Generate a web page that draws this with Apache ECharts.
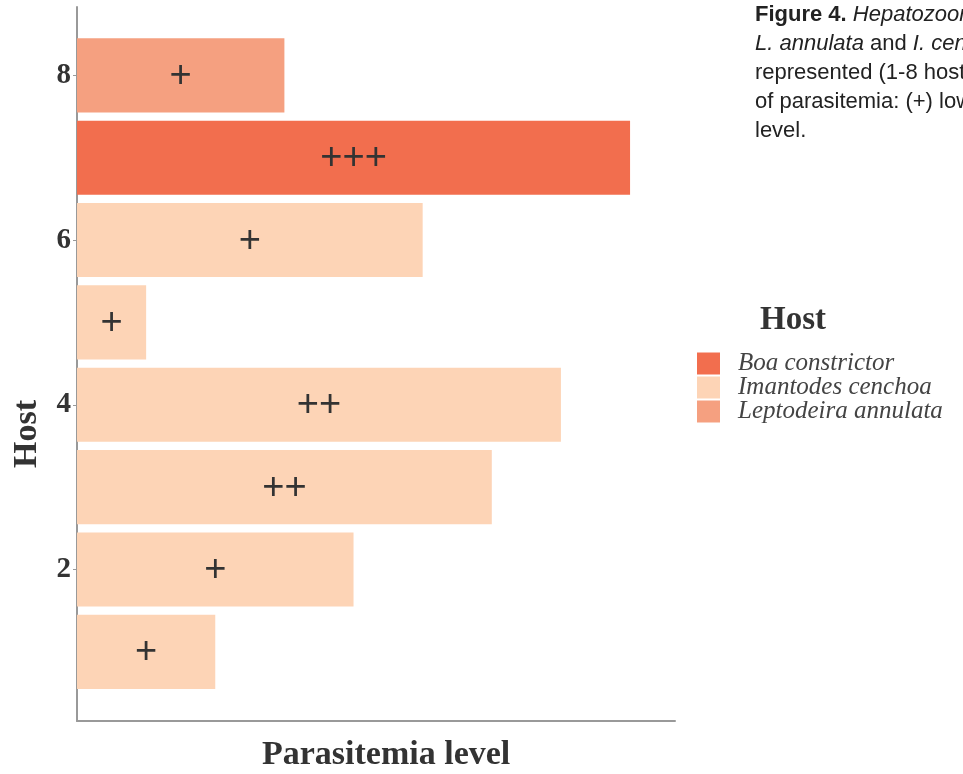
<!DOCTYPE html>
<html>
<head>
<meta charset="utf-8">
<script src="https://cdn.jsdelivr.net/npm/echarts@6/dist/echarts.min.js"></script>
<style>
html,body{margin:0;padding:0;background:#fff;}
#chart{width:963px;height:774px;}
</style>
</head>
<body>
<div id="chart"></div>
<script>
// ---- data ----
var hosts = [1, 2, 3, 4, 5, 6, 7, 8];
var parasitemia = [2, 4, 6, 7, 1, 5, 8, 3];
var hostSpecies = ['Imantodes cenchoa', 'Imantodes cenchoa', 'Imantodes cenchoa', 'Imantodes cenchoa',
                   'Imantodes cenchoa', 'Imantodes cenchoa', 'Boa constrictor', 'Leptodeira annulata'];
var levelLabels = ['+', '+', '++', '++', '+', '+', '+++', '+'];
var speciesNames = ['Boa constrictor', 'Imantodes cenchoa', 'Leptodeira annulata'];
var speciesColors = ['#F26E4E', '#FDD4B6', '#F5A080'];
var yTickValues = [2, 4, 6, 8];
var captionLines = [
  ['Figure 4. ', 'Hepatozoon sp. parasitemia in B. constrictor,'],
  ['L. annulata', ' and ', 'I. cenchoa', '. Each individual host is'],
  ['represented (1-8 hosts) and the bar shows the level'],
  ['of parasitemia: (+) low, (++) moderate and (+++) high'],
  ['level.']
];

var chart = echarts.init(document.getElementById('chart'), null, {renderer: 'canvas'});

function renderBar(params, api) {
  var v = api.value(0), h = api.value(1);
  var s = api.coord([0, h]);
  var e = api.coord([v, h]);
  var bh = api.size([0, 0.9])[1];
  return {
    type: 'group',
    children: [
      {type: 'rect', shape: {x: s[0], y: s[1] - bh / 2, width: e[0] - s[0], height: bh},
       style: {fill: api.visual('color')}},
      {type: 'text', x: (s[0] + e[0]) / 2, y: s[1] + 1,
       style: {text: levelLabels[h - 1], fill: '#333', font: '38px "Liberation Sans"',
               align: 'center', verticalAlign: 'middle'}}
    ]
  };
}

var series = speciesNames.map(function (name, i) {
  var d = [];
  hosts.forEach(function (h, k) {
    if (hostSpecies[k] === name) d.push([parasitemia[k], h]);
  });
  return {
    type: 'custom', name: name, data: d, renderItem: renderBar,
    itemStyle: {color: speciesColors[i]}, encode: {x: 0, y: 1}, clip: false
  };
});

var serif = '"Liberation Serif", "DejaVu Serif", serif';
var sans = '"Liberation Sans", Arial, sans-serif';
var captionGraphics = captionLines.map(function (parts, li) {
  var base = {fontFamily: sans, fontSize: 22, fill: '#222', color: '#222'};
  var rich = {
    b: Object.assign({}, base, {fontWeight: 'bold'}),
    i: Object.assign({}, base, {fontStyle: 'italic'}),
    n: Object.assign({}, base)
  };
  var txt;
  if (li === 0) txt = '{b|' + parts[0] + '}{i|' + parts[1] + '}';
  else if (li === 1) txt = '{i|' + parts[0] + '}{n|' + parts[1] + '}{i|' + parts[2] + '}{n|' + parts[3] + '}';
  else txt = '{n|' + parts[0] + '}';
  return {
    type: 'text', left: 755, top: 4 + li * 29,
    style: {text: txt, rich: rich, fill: '#222', fontFamily: sans, fontSize: 22}
  };
});

var option = {
  backgroundColor: '#ffffff',
  animation: false,
  grid: {left: 77, right: 288, top: 7, bottom: 53, containLabel: false},
  xAxis: {
    type: 'value', min: 0, max: 8.65,
    axisLine: {show: true, lineStyle: {color: '#999', width: 2}},
    axisTick: {show: false}, axisLabel: {show: false}, splitLine: {show: false}
  },
  yAxis: {
    type: 'value', min: 0.16, max: 8.83,
    axisLine: {show: true, lineStyle: {color: '#999', width: 2}},
    axisTick: {show: true, length: 4, lineStyle: {color: '#999', width: 1}, customValues: yTickValues},
    axisLabel: {customValues: yTickValues, fontFamily: serif, fontWeight: 'bold', fontSize: 29,
                color: '#333', margin: 6},
    splitLine: {show: false}
  },
  legend: {
    data: speciesNames, orient: 'vertical', left: 697, top: 351, padding: 0,
    icon: 'rect', itemWidth: 23, itemHeight: 22, itemGap: -1,
    textStyle: {fontFamily: serif, fontStyle: 'italic', fontSize: 25, color: '#444',
                lineHeight: 22, height: 22, padding: [0, 0, 0, 13]},
    selectedMode: false
  },
  series: series,
  graphic: [
    {type: 'text', left: 262, top: 738,
     style: {text: 'Parasitemia level', fontFamily: serif, fontWeight: 'bold', fontSize: 34, fill: '#333'}},
    {type: 'text', x: 27, y: 434, rotation: Math.PI / 2,
     style: {text: 'Host', fontFamily: serif, fontWeight: 'bold', fontSize: 34, fill: '#333',
             align: 'center', verticalAlign: 'middle'}},
    {type: 'text', x: 793, y: 320,
     style: {text: 'Host', fontFamily: serif, fontWeight: 'bold', fontSize: 33, fill: '#333',
             align: 'center', verticalAlign: 'middle'}}
  ].concat(captionGraphics)
};
chart.setOption(option);
</script>
</body>
</html>
